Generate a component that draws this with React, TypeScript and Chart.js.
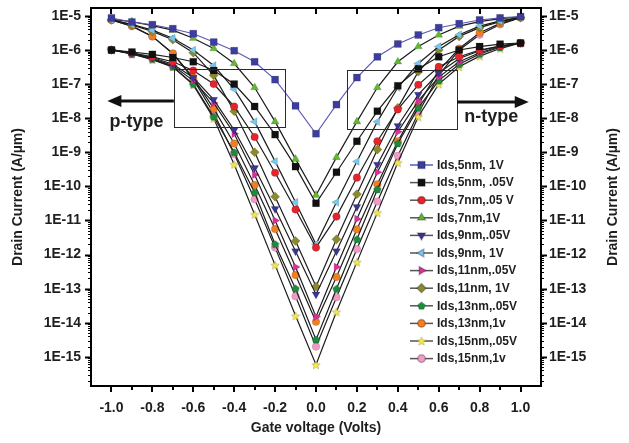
import React, { useEffect, useRef } from 'react';
import { Chart, registerables } from 'chart.js';
import { drawPoint } from 'chart.js/helpers';

Chart.register(...registerables);

// ---------------- data ----------------
const gateVoltage = [-1.0, -0.9, -0.8, -0.7, -0.6, -0.5, -0.4, -0.3, -0.2, -0.1, 0.0, 0.1, 0.2, 0.3, 0.4, 0.5, 0.6, 0.7, 0.8, 0.9, 1.0];

const ids5nm1V = [8.7e-6, 6.6e-6, 5.5e-6, 4.2e-6, 3.0e-6, 1.7e-6, 9.5e-7, 4.5e-7, 1.35e-7, 2.3e-8, 3.5e-9, 2.5e-8, 1.55e-7, 6.3e-7, 1.5e-6, 2.75e-6, 4.5e-6, 5.9e-6, 7.6e-6, 8.7e-6, 9.5e-6];
const ids5nm005V = [1.0e-6, 8.7e-7, 7.4e-7, 6.0e-7, 4.5e-7, 2.5e-7, 1.0e-7, 2.2e-8, 3.3e-9, 3.8e-10, 3.2e-11, 2.6e-10, 2.1e-9, 1.6e-8, 8.9e-8, 2.8e-7, 6.3e-7, 1.0e-6, 1.26e-6, 1.48e-6, 1.6e-6];
const ids7nm005V = [1.0e-6, 8.3e-7, 6.3e-7, 4.5e-7, 2.5e-7, 1.0e-7, 2.2e-8, 2.8e-9, 2.5e-10, 2.1e-11, 1.6e-12, 1.3e-11, 1.8e-10, 2.1e-9, 1.8e-8, 9.5e-8, 3.2e-7, 6.3e-7, 1.0e-6, 1.3e-6, 1.6e-6];
const ids7nm1V = [7.9e-6, 6.8e-6, 5.2e-6, 3.8e-6, 2.2e-6, 1.1e-6, 4.0e-7, 7.9e-8, 7.9e-9, 6.3e-10, 5.5e-11, 7.1e-10, 7.9e-9, 7.9e-8, 4.5e-7, 1.26e-6, 2.75e-6, 5.0e-6, 6.8e-6, 8.3e-6, 9.3e-6];
const ids9nm005V = [1.0e-6, 7.9e-7, 6.0e-7, 3.8e-7, 1.55e-7, 3.5e-8, 4.5e-9, 3.5e-10, 2.2e-11, 1.26e-12, 6.8e-14, 1.26e-12, 2.5e-11, 4.4e-10, 6.0e-9, 4.9e-8, 2.1e-7, 5.6e-7, 9.5e-7, 1.3e-6, 1.6e-6];
const ids9nm1V = [7.6e-6, 5.6e-6, 3.8e-6, 2.2e-6, 1.0e-6, 3.5e-7, 7.1e-8, 7.9e-9, 5.4e-10, 3.4e-11, 2.0e-12, 3.4e-11, 5.4e-10, 7.9e-9, 7.9e-8, 4.0e-7, 1.26e-6, 2.8e-6, 5.0e-6, 7.1e-6, 9.1e-6];
const ids11nm005V = [1.0e-6, 7.9e-7, 5.6e-7, 3.5e-7, 1.26e-7, 2.8e-8, 3.5e-9, 2.2e-10, 1.0e-11, 4.3e-13, 1.5e-14, 4.3e-13, 1.1e-11, 2.6e-10, 4.0e-9, 3.2e-8, 1.6e-7, 4.5e-7, 8.3e-7, 1.26e-6, 1.6e-6];
const ids11nm1V = [7.6e-6, 5.4e-6, 3.5e-6, 2.0e-6, 8.3e-7, 1.8e-7, 1.6e-8, 1.0e-9, 5.0e-11, 2.5e-12, 1.15e-13, 2.8e-12, 5.9e-11, 1.2e-9, 2.0e-8, 2.3e-7, 1.0e-6, 2.5e-6, 4.5e-6, 6.8e-6, 8.9e-6];
const ids13nm005V = [1.0e-6, 7.6e-7, 5.4e-7, 3.2e-7, 1.0e-7, 1.1e-8, 1.0e-9, 6.6e-11, 2.0e-12, 1.0e-13, 3.2e-15, 9.8e-14, 2.8e-12, 8.1e-11, 1.8e-9, 2.0e-8, 1.26e-7, 3.8e-7, 7.6e-7, 1.2e-6, 1.6e-6];
const ids13nm1V = [7.6e-6, 5.0e-6, 2.5e-6, 7.9e-7, 1.55e-7, 1.9e-8, 1.8e-9, 1.1e-10, 5.6e-12, 2.5e-13, 1.07e-14, 2.2e-13, 5.5e-12, 1.15e-10, 2.1e-9, 2.5e-8, 2.5e-7, 1.1e-6, 3.2e-6, 6.0e-6, 8.9e-6];
const ids15nm005V = [1.0e-6, 7.6e-7, 5.2e-7, 3.2e-7, 9.5e-8, 9.8e-9, 4.4e-10, 1.5e-11, 4.9e-13, 1.6e-14, 5.9e-16, 2.1e-14, 6.0e-13, 1.7e-11, 5.0e-10, 1.1e-8, 1.0e-7, 3.2e-7, 6.6e-7, 1.1e-6, 1.6e-6];
const ids15nm1V = [7.6e-6, 5.0e-6, 2.5e-6, 7.9e-7, 1.4e-7, 1.4e-8, 8.9e-10, 4.2e-11, 1.6e-12, 6.0e-14, 2.0e-15, 5.6e-14, 1.45e-12, 3.6e-11, 7.9e-10, 1.4e-8, 1.8e-7, 1.0e-6, 2.8e-6, 5.6e-6, 8.9e-6];

const seriesLabels = [
  'Ids,5nm, 1V', 'Ids,5nm, .05V', 'Ids,7nm,.05 V', 'Ids,7nm,1V', 'Ids,9nm,.05V', 'Ids,9nm, 1V',
  'Ids,11nm,.05V', 'Ids,11nm, 1V', 'Ids,13nm,.05V', 'Ids,13nm,1v', 'Ids,15nm,.05V', 'Ids,15nm,1v',
];
const seriesData = [
  ids5nm1V, ids5nm005V, ids7nm005V, ids7nm1V, ids9nm005V, ids9nm1V,
  ids11nm005V, ids11nm1V, ids13nm005V, ids13nm1V, ids15nm005V, ids15nm1V,
];

const xTickValues = [-1.0, -0.8, -0.6, -0.4, -0.2, 0.0, 0.2, 0.4, 0.6, 0.8, 1.0];
const yTickValues = [1e-15, 1e-14, 1e-13, 1e-12, 1e-11, 1e-10, 1e-9, 1e-8, 1e-7, 1e-6, 1e-5];

// ---------------- styles ----------------
const FONT = "Arial, 'Liberation Sans', Helvetica, sans-serif";
const TEXT = '#1e1e1e';

type Marker = { color: string; style: any; rotation: number; radius: number; line: string };

function makeShape(kind: 'star' | 'pentagon', fill: string, size: number) {
  const c = document.createElement('canvas');
  c.width = size;
  c.height = size;
  const g = c.getContext('2d')!;
  const cx = size / 2, cy = size / 2 + (kind === 'star' ? 0.5 : 0.3), R = size / 2 - 0.5;
  g.beginPath();
  if (kind === 'star') {
    for (let i = 0; i < 10; i++) {
      const r = i % 2 === 0 ? R : R * 0.45;
      const a = -Math.PI / 2 + (i * Math.PI) / 5;
      const px = cx + r * Math.cos(a), py = cy + r * Math.sin(a);
      if (i === 0) g.moveTo(px, py); else g.lineTo(px, py);
    }
  } else {
    for (let i = 0; i < 5; i++) {
      const a = -Math.PI / 2 + (i * 2 * Math.PI) / 5;
      const px = cx + R * Math.cos(a), py = cy + R * Math.sin(a);
      if (i === 0) g.moveTo(px, py); else g.lineTo(px, py);
    }
  }
  g.closePath();
  g.fillStyle = fill;
  g.fill();
  g.lineWidth = 0.6;
  g.strokeStyle = 'rgba(0,0,0,0.3)';
  g.stroke();
  return c;
}

function buildMarkers(): Marker[] {
  const L = '#1c1c1c';
  return [
    { color: '#3d3d9e', style: 'rect', rotation: 0, radius: 5, line: '#5a5ab4' },
    { color: '#111111', style: 'rect', rotation: 0, radius: 5, line: L },
    { color: '#e3262b', style: 'circle', rotation: 0, radius: 3.8, line: L },
    { color: '#62b832', style: 'triangle', rotation: 0, radius: 4.6, line: L },
    { color: '#3a3494', style: 'triangle', rotation: 180, radius: 4.6, line: L },
    { color: '#79c7ee', style: 'triangle', rotation: -90, radius: 4.6, line: L },
    { color: '#dd2f9c', style: 'triangle', rotation: 90, radius: 4.6, line: L },
    { color: '#8c8a2c', style: 'rectRot', rotation: 0, radius: 4.6, line: L },
    { color: '#1e8a3c', style: makeShape('pentagon', '#1e8a3c', 9), rotation: 0, radius: 4.5, line: L },
    { color: '#f07e22', style: 'circle', rotation: 0, radius: 3.8, line: L },
    { color: '#f5e94a', style: makeShape('star', '#f5e94a', 10), rotation: 0, radius: 5, line: L },
    { color: '#f09ac6', style: 'circle', rotation: 0, radius: 3.8, line: L },
  ];
}

// layout constants (pixels)
const LEGEND_LINE_X0 = 410;
const LEGEND_LINE_X1 = 433;
const LEGEND_TEXT_X = 437;
const LEGEND_Y0 = 165;
const LEGEND_DY = 17.6;

export default function App() {
  const ref = useRef<HTMLCanvasElement | null>(null);

  useEffect(() => {
    document.body.style.margin = '0';
    const canvas = ref.current!;
    const markers = buildMarkers();

    const datasets = seriesData.map((arr, i) => ({
      label: seriesLabels[i],
      data: gateVoltage.map((v, k) => ({ x: v, y: arr[k] })),
      borderColor: markers[i].line,
      borderWidth: i === 0 ? 1.1 : 1.2,
      pointStyle: markers[i].style,
      pointRotation: markers[i].rotation,
      pointRadius: markers[i].radius,
      pointBackgroundColor: markers[i].color,
      pointBorderColor: 'rgba(0,0,0,0.25)',
      pointBorderWidth: 0.5,
      fill: false,
      tension: 0,
      yAxisID: 'y',
    }));

    const decor = {
      id: 'decor',
      afterDraw(chart: any) {
        const { ctx, chartArea } = chart;
        const { left, right, top, bottom } = chartArea;
        const xs = chart.scales.x;
        const ys = chart.scales.y;
        ctx.save();
        ctx.strokeStyle = '#000';
        ctx.fillStyle = '#000';

        // ticks
        const line = (x0: number, y0: number, x1: number, y1: number, w: number) => {
          ctx.lineWidth = w;
          ctx.beginPath();
          ctx.moveTo(x0, y0);
          ctx.lineTo(x1, y1);
          ctx.stroke();
        };
        for (let k = -10; k <= 10; k++) {
          const v = k / 10;
          const px = Math.round(xs.getPixelForValue(v));
          const major = k % 2 === 0;
          line(px, bottom, px, bottom + (major ? 6 : 4), 2);
          if (major) line(px, top, px, top + 6, 2);
        }
        for (let n = -16; n <= -5; n++) {
          for (let m = 1; m <= 9; m++) {
            const v = m * Math.pow(10, n);
            if (v < ys.min || v > ys.max) continue;
            const py = Math.round(ys.getPixelForValue(v)) + 0.5;
            const len = m === 1 ? 6 : 3;
            const w = m === 1 ? 2 : 1;
            line(left - len, py, left, py, w);
            line(right, py, right + len, py, w);
          }
        }

        // frame
        ctx.lineWidth = 2;
        ctx.strokeRect(left, top, right - left, bottom - top);

        // axis titles
        ctx.fillStyle = TEXT;
        ctx.font = `bold 14px ${FONT}`;
        ctx.textAlign = 'center';
        ctx.textBaseline = 'middle';
        ctx.fillText('Gate voltage (Volts)', (left + right) / 2, 428);
        const cy = (top + bottom) / 2;
        [18, 613].forEach((tx) => {
          ctx.save();
          ctx.translate(tx, cy);
          ctx.rotate(-Math.PI / 2);
          ctx.fillText('Drain Current (A/\u00b5m)', 0, 0);
          ctx.restore();
        });

        // boxes (in data coordinates)
        ctx.strokeStyle = '#2a2a2a';
        ctx.lineWidth = 1;
        const box = (v0: number, v1: number, i0: number, i1: number) => {
          const x0 = Math.round(xs.getPixelForValue(v0)) + 0.5;
          const x1 = Math.round(xs.getPixelForValue(v1)) + 0.5;
          const y0 = Math.round(ys.getPixelForValue(i0)) + 0.5;
          const y1 = Math.round(ys.getPixelForValue(i1)) + 0.5;
          ctx.strokeRect(x0, y0, x1 - x0, y1 - y0);
        };
        box(-0.695, -0.15, 2.8e-7, 5.4e-9);
        box(0.15, 0.69, 2.5e-7, 4.7e-9);

        // arrows
        const arrow = (x0: number, x1: number, y: number) => {
          const dir = Math.sign(x1 - x0);
          ctx.strokeStyle = '#111';
          ctx.fillStyle = '#111';
          ctx.lineWidth = 3;
          ctx.beginPath();
          ctx.moveTo(x0, y);
          ctx.lineTo(x1 - dir * 10, y);
          ctx.stroke();
          ctx.beginPath();
          ctx.moveTo(x1, y);
          ctx.lineTo(x1 - dir * 14, y - 6);
          ctx.lineTo(x1 - dir * 14, y + 6);
          ctx.closePath();
          ctx.fill();
        };
        const ay = ys.getPixelForValue(3.2e-8);
        arrow(xs.getPixelForValue(-0.695), xs.getPixelForValue(-1.02), ay);
        arrow(xs.getPixelForValue(0.69), xs.getPixelForValue(1.04), ay + 1);

        ctx.fillStyle = TEXT;
        ctx.font = `bold 18px ${FONT}`;
        ctx.textAlign = 'left';
        ctx.textBaseline = 'alphabetic';
        ctx.fillText('p-type', xs.getPixelForValue(-1.01), ys.getPixelForValue(6e-9) + 1);
        ctx.fillText('n-type', xs.getPixelForValue(0.725), ys.getPixelForValue(8e-9) + 1);

        // legend
        ctx.font = `bold 12px ${FONT}`;
        ctx.textBaseline = 'middle';
        markers.forEach((mk, i) => {
          const y = LEGEND_Y0 + i * LEGEND_DY;
          ctx.strokeStyle = i === 0 ? mk.line : '#555';
          ctx.lineWidth = 1.5;
          ctx.beginPath();
          ctx.moveTo(LEGEND_LINE_X0, y);
          ctx.lineTo(LEGEND_LINE_X1, y);
          ctx.stroke();
          ctx.fillStyle = mk.color;
          ctx.strokeStyle = 'rgba(0,0,0,0.25)';
          drawPoint(ctx, { pointStyle: mk.style, rotation: mk.rotation, radius: mk.radius, borderWidth: 0.5 }, (LEGEND_LINE_X0 + LEGEND_LINE_X1) / 2, y);
          ctx.fillStyle = TEXT;
          ctx.fillText(seriesLabels[i], LEGEND_TEXT_X, y + 0.5);
        });
        ctx.restore();
      },
    };

    const tickFont = { family: FONT, size: 14, weight: 'bold' as const };
    const yCommon = {
      type: 'logarithmic' as const,
      min: 1.4e-16,
      max: 1.7e-5,
      afterBuildTicks: (s: any) => {
        s.ticks = yTickValues.map((v) => ({ value: v }));
      },
      ticks: {
        callback: (v: any) => '1E' + Math.round(Math.log10(Number(v))),
        font: tickFont,
        color: TEXT,
        autoSkip: false,
      },
      grid: { display: false, drawTicks: false },
      border: { display: false },
    };

    const chart = new Chart(canvas, {
      type: 'line',
      data: { datasets: datasets as any },
      options: {
        animation: false,
        responsive: false,
        events: [],
        layout: { padding: { top: 8, left: 0, right: 0, bottom: 0 } },
        plugins: { legend: { display: false }, tooltip: { enabled: false } },
        scales: {
          x: {
            type: 'linear',
            min: -1.1,
            max: 1.1,
            afterBuildTicks: (s: any) => {
              s.ticks = xTickValues.map((v) => ({ value: v }));
            },
            ticks: {
              callback: (v: any) => Number(v).toFixed(1),
              font: tickFont,
              color: TEXT,
              padding: 14,
              autoSkip: false,
              maxRotation: 0,
            },
            grid: { display: false, drawTicks: false },
            border: { display: false },
            afterFit: (s: any) => {
              s.height = 57;
              s.paddingLeft = 0;
              s.paddingRight = 0;
            },
          },
          y: {
            ...yCommon,
            position: 'left',
            ticks: { ...yCommon.ticks, padding: 10 },
            afterFit: (s: any) => {
              s.width = 91;
              s.paddingTop = 0;
              s.paddingBottom = 0;
            },
          },
          y2: {
            ...yCommon,
            position: 'right',
            ticks: { ...yCommon.ticks, padding: 8 },
            afterFit: (s: any) => {
              s.width = 88;
              s.paddingTop = 0;
              s.paddingBottom = 0;
            },
          },
        } as any,
      },
      plugins: [decor],
    });
    return () => chart.destroy();
  }, []);

  return (
    <div style={{ width: 629, height: 443, background: '#fff' }}>
      <canvas ref={ref} width={629} height={443} />
    </div>
  );
}
